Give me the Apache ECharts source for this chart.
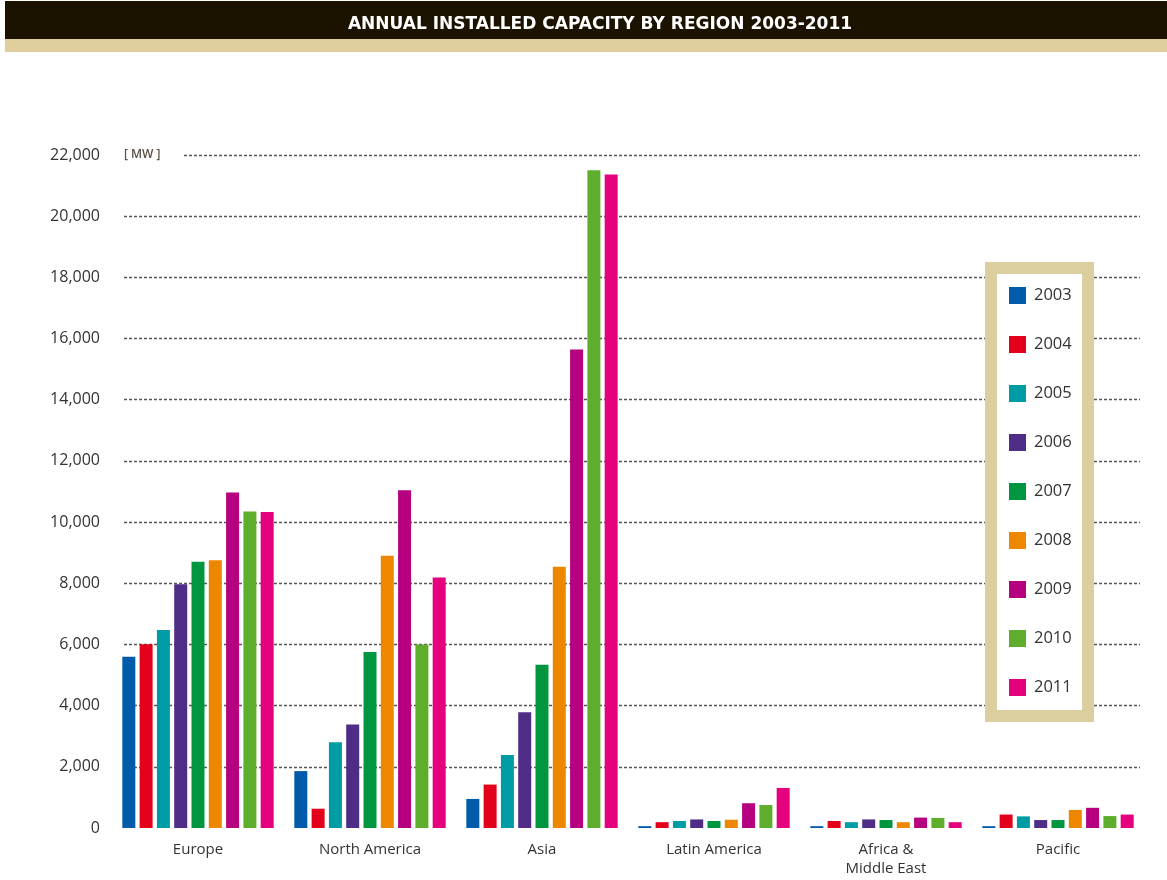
<!DOCTYPE html>
<html>
<head>
<meta charset="utf-8">
<title>Annual installed capacity by region 2003-2011</title>
<script src="https://cdn.jsdelivr.net/npm/echarts@6/dist/echarts.min.js"></script>
<style>
  html, body { margin: 0; padding: 0; background: #ffffff; }
  #chart { width: 1167px; height: 880px; }
</style>
</head>
<body>
<div id="chart"></div>
<script>
// Regions on the category axis
const regions = ['Europe', 'North America', 'Asia', 'Latin America', 'Africa &\nMiddle East', 'Pacific'];

// Installed capacity per year, MW, in region order
const years = ['2003', '2004', '2005', '2006', '2007', '2008', '2009', '2010', '2011'];
const mw2003 = [5600, 1860, 950, 60, 60, 60];
const mw2004 = [6010, 630, 1420, 190, 230, 440];
const mw2005 = [6470, 2800, 2390, 230, 190, 380];
const mw2006 = [7970, 3380, 3780, 280, 280, 260];
const mw2007 = [8700, 5750, 5340, 230, 260, 260];
const mw2008 = [8750, 8900, 8540, 270, 190, 590];
const mw2009 = [10970, 11040, 15640, 810, 340, 660];
const mw2010 = [10350, 6000, 21500, 750, 330, 390];
const mw2011 = [10330, 8190, 21360, 1310, 190, 440];
const yearValues = [mw2003, mw2004, mw2005, mw2006, mw2007, mw2008, mw2009, mw2010, mw2011];

const yearColors = ['#005baa', '#e2001a', '#009ca6', '#4f2d87', '#00953f',
                    '#ee8700', '#b5007f', '#5fad2d', '#e5007d'];

const FONT = '"Open Sans", "Noto Sans", sans-serif';
const Y_MAX = 22000;
const Y_STEP = 2000;

const chart = echarts.init(document.getElementById('chart'), null, { renderer: 'canvas' });

const series = years.map((y, i) => ({
  name: y,
  type: 'bar',
  xAxisIndex: 0,
  yAxisIndex: 0,
  data: yearValues[i],
  barGap: '33%',
  barCategoryGap: '12%',
  itemStyle: { color: yearColors[i] },
  emphasis: { disabled: true }
}));

chart.setOption({
  animation: false,
  backgroundColor: '#ffffff',
  color: yearColors,
  textStyle: { fontFamily: FONT },
  title: {
    text: 'ANNUAL INSTALLED CAPACITY BY REGION 2003-2011',
    left: 595,
    top: 11,
    textAlign: 'center',
    z: 20,
    textStyle: { color: '#ffffff', fontSize: 17, fontWeight: 'bold', fontFamily: '"DejaVu Sans", sans-serif' }
  },
  graphic: [
    { type: 'rect', z: 5, shape: { x: 5, y: 1, width: 1162, height: 38 }, style: { fill: '#1b1300' } },
    { type: 'rect', z: 5, shape: { x: 5, y: 39, width: 1162, height: 13 }, style: { fill: '#e0cf9d' } },
    // unit label sitting on the top gridline
    { type: 'text', z: 10, x: 112, y: 155,
      style: { text: '[ MW ]', fill: '#5a4f45', font: '600 12px "Open Sans", sans-serif',
               verticalAlign: 'middle', align: 'left',
               backgroundColor: '#ffffff', padding: [3, 22, 3, 12] } },
    // legend frame
    { type: 'rect', z: 10, shape: { x: 991, y: 268, width: 97, height: 448 },
      style: { fill: '#ffffff', stroke: '#dccf9f', lineWidth: 12 } }
  ],
  legend: {
    orient: 'vertical',
    left: 1009,
    top: 287,
    padding: 0,
    z: 20,
    itemWidth: 17,
    itemHeight: 17,
    itemGap: 32,
    icon: 'rect',
    data: years,
    selectedMode: false,
    textStyle: { color: '#333333', fontSize: 16.5, fontFamily: FONT, padding: [0, 0, 0, 3] }
  },
  grid: [
    // bars and axis labels
    { left: 112, right: 23, top: 155, bottom: 52, containLabel: false },
    // dotted value gridlines
    { left: 124, right: 27, top: 155, bottom: 52, containLabel: false }
  ],
  xAxis: [
    {
      type: 'category',
      gridIndex: 0,
      data: regions,
      axisLine: { show: false },
      axisTick: { show: false },
      axisLabel: { color: '#333333', fontSize: 15, margin: 12, lineHeight: 19, fontFamily: FONT }
    },
    { type: 'value', gridIndex: 1, show: false }
  ],
  yAxis: [
    {
      type: 'value',
      gridIndex: 0,
      min: 0,
      max: Y_MAX,
      interval: Y_STEP,
      axisLine: { show: false },
      axisTick: { show: false },
      axisLabel: {
        color: '#333333', fontSize: 16, margin: 12, fontFamily: FONT,
        formatter: v => v.toLocaleString('en-US')
      },
      splitLine: { show: false }
    },
    {
      type: 'value',
      gridIndex: 1,
      min: 0,
      max: Y_MAX,
      interval: Y_STEP,
      axisLine: { show: false },
      axisTick: { show: false },
      axisLabel: { show: false },
      splitLine: {
        show: true,
        showMinLine: false,
        lineStyle: { color: '#555555', width: 1.4, type: [3, 2] }
      }
    }
  ],
  series: series
});
</script>
</body>
</html>
